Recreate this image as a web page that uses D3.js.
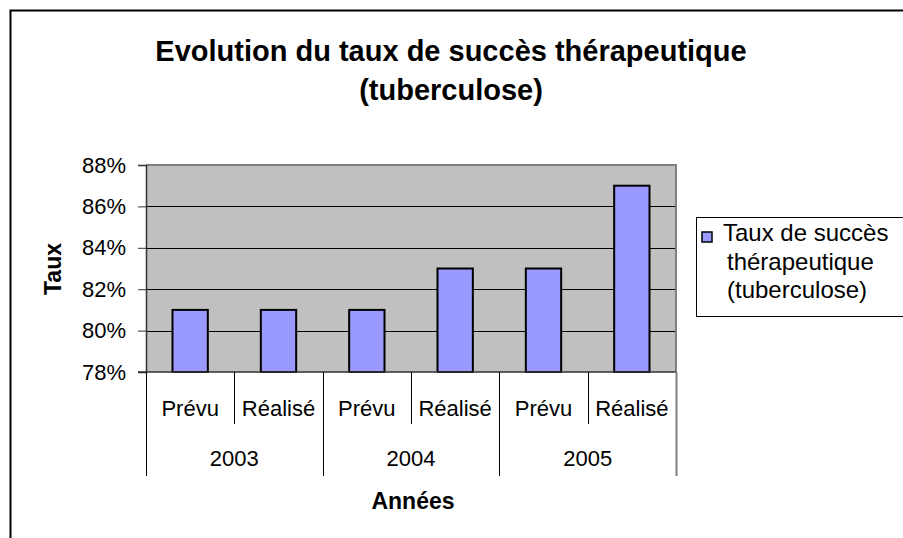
<!DOCTYPE html>
<html>
<head>
<meta charset="utf-8">
<script src="https://cdn.jsdelivr.net/npm/d3@7"></script>
<style>
  body { margin: 0; background: #fff; }
  text { font-family: "Liberation Sans", Arial, sans-serif; fill: #000; }
</style>
</head>
<body>
<svg id="chart" width="903" height="538"></svg>
<script>
// chart data
var years = ["2003", "2004", "2005"]
var phases = ["Prévu", "Réalisé"]
var values = [0.81, 0.81, 0.81, 0.83, 0.83, 0.87]
var yTicks = [0.78, 0.80, 0.82, 0.84, 0.86, 0.88]
var titleLines = ["Evolution du taux de succès thérapeutique", "(tuberculose)"]
var legendLines = ["Taux de succès", "thérapeutique", "(tuberculose)"]

var svg = d3.select("#chart")

// one entry per bar: year + phase
var cats = []
years.forEach(function (y) {
    phases.forEach(function (p) {
        cats.push({ key: y + "-" + p, year: y, phase: p })
    })
})
cats.forEach(function (c, i) { c.value = values[i] })

var plot = { left: 146, right: 676, top: 165, bottom: 372 }

var x = d3.scaleBand().domain(cats.map(d => d.key))
    .range([plot.left, plot.right]).paddingInner(0.6).paddingOuter(0.3)
var xCat = d3.scaleBand().domain(cats.map(d => d.key))
    .range([plot.left, plot.right]).padding(0)
var xYear = d3.scaleBand().domain(years).range([plot.left, plot.right]).padding(0)
var y = d3.scaleLinear().domain([0.78, 0.88]).range([plot.bottom, plot.top])

// outer frame (cut by the window on right and bottom)
svg.append("rect").attr("x", 10.5).attr("y", 10.5).attr("width", 905).attr("height", 545)
    .attr("fill", "none").attr("stroke", "#000").attr("stroke-width", 2)

// title
svg.selectAll(".title").data(titleLines).enter().append("text")
    .attr("class", "title")
    .attr("x", 451).attr("y", (d, i) => 61 + i * 39)
    .attr("text-anchor", "middle")
    .style("font-size", "29px").style("font-weight", "bold")
    .text(d => d)

// plot background
svg.append("rect").attr("x", plot.left).attr("y", plot.top)
    .attr("width", plot.right - plot.left).attr("height", plot.bottom - plot.top)
    .attr("fill", "#c0c0c0")

// gridlines
svg.selectAll(".grid").data(yTicks.slice(1, -1)).enter().append("line")
    .attr("x1", plot.left).attr("x2", plot.right)
    .attr("y1", d => Math.round(y(d)) + 0.5).attr("y2", d => Math.round(y(d)) + 0.5)
    .attr("stroke", "#000").attr("stroke-width", 1)

// top and right border of plot area
svg.append("path")
    .attr("d", `M${plot.left},${plot.top} H${plot.right} V${plot.bottom}`)
    .attr("fill", "none").attr("stroke", "#808080").attr("stroke-width", 2)

// bars
svg.selectAll(".bar").data(cats).enter().append("rect")
    .attr("class", "bar")
    .attr("x", d => x(d.key)).attr("width", x.bandwidth())
    .attr("y", d => y(d.value)).attr("height", d => y(0.78) - y(d.value))
    .attr("fill", "#9999ff").attr("stroke", "#000").attr("stroke-width", 2)

// y axis
var yAxis = d3.axisLeft(y).tickValues(yTicks).tickFormat(d3.format(".0%"))
    .tickSize(8).tickPadding(12)
var ya = svg.append("g").attr("transform", `translate(${plot.left},0)`).call(yAxis)
ya.select(".domain").attr("stroke", "#333").attr("stroke-width", 1.5)
ya.selectAll(".tick line").attr("stroke", "#333")
ya.selectAll(".tick text").style("font-size", "22px").attr("fill", "#000")

// x axis line
svg.append("line").attr("x1", plot.left - 8).attr("x2", plot.right)
    .attr("y1", plot.bottom).attr("y2", plot.bottom)
    .attr("stroke", "#333").attr("stroke-width", 1.5)

// inner separators (between phases)
svg.selectAll(".sep").data(cats.filter((d, i) => i % 2 == 1)).enter().append("line")
    .attr("x1", d => Math.round(xCat(d.key)) + 0.5).attr("x2", d => Math.round(xCat(d.key)) + 0.5)
    .attr("y1", plot.bottom).attr("y2", 424)
    .attr("stroke", "#000").attr("stroke-width", 1)

// year separators
var yearEdges = years.map(d => xYear(d)).concat([plot.right])
svg.selectAll(".ysep").data(yearEdges).enter().append("line")
    .attr("x1", d => Math.round(d) + 0.5).attr("x2", d => Math.round(d) + 0.5)
    .attr("y1", plot.bottom).attr("y2", 476)
    .attr("stroke", (d, i) => i == yearEdges.length - 1 ? "#808080" : "#000")
    .attr("stroke-width", (d, i) => i == yearEdges.length - 1 ? 2 : 1)

// phase labels
svg.selectAll(".phase").data(cats).enter().append("text")
    .attr("x", d => xCat(d.key) + xCat.bandwidth() / 2).attr("y", 416)
    .attr("text-anchor", "middle").style("font-size", "22px")
    .text(d => d.phase)

// year labels
svg.selectAll(".year").data(years).enter().append("text")
    .attr("x", d => xYear(d) + xYear.bandwidth() / 2).attr("y", 466)
    .attr("text-anchor", "middle").style("font-size", "22px")
    .text(d => d)

// axis titles
svg.append("text").attr("x", 413).attr("y", 509).attr("text-anchor", "middle")
    .style("font-size", "23px").style("font-weight", "bold").text("Années")
svg.append("text").attr("transform", "translate(61,269) rotate(-90)")
    .attr("text-anchor", "middle")
    .style("font-size", "23px").style("font-weight", "bold").text("Taux")

// legend
svg.append("rect").attr("x", 696.5).attr("y", 217.5).attr("width", 220).attr("height", 99)
    .attr("fill", "#fff").attr("stroke", "#000").attr("stroke-width", 1)
svg.append("rect").attr("x", 702).attr("y", 232).attr("width", 10).attr("height", 10)
    .attr("fill", "#9999ff").attr("stroke", "#000").attr("stroke-width", 1.5)
svg.selectAll(".leg").data(legendLines).enter().append("text")
    .attr("x", (d, i) => i == 0 ? 723 : 727).attr("y", (d, i) => 241 + i * 28.5)
    .style("font-size", "24px")
    .text(d => d)
</script>
</body>
</html>
